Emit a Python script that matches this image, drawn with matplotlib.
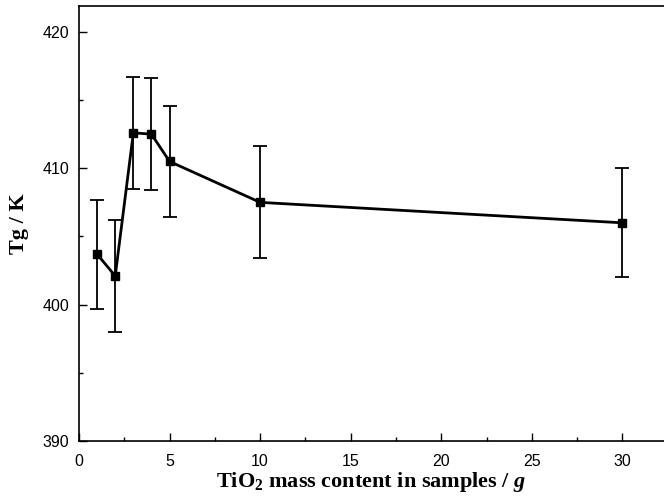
import numpy as np
import matplotlib
matplotlib.use("Agg")
import matplotlib.pyplot as plt

plt.rcParams['font.family'] = ['Liberation Sans', 'DejaVu Sans']
plt.rcParams['mathtext.fontset'] = 'custom'
plt.rcParams['mathtext.rm'] = 'Liberation Serif:bold'
plt.rcParams['mathtext.it'] = 'Liberation Serif:bold:italic'
plt.rcParams['mathtext.bf'] = 'Liberation Serif:bold'

tio2_mass = [1, 2, 3, 4, 5, 10, 30]
tg = [403.7, 402.1, 412.6, 412.5, 410.5, 407.5, 406.0]
tg_err = [4.0, 4.1, 4.1, 4.1, 4.1, 4.1, 4.0]

fig = plt.figure(figsize=(6.64, 4.97), dpi=100)
ax = fig.add_axes([79 / 664, 1 - 441 / 497, 1 - 79 / 664, 435 / 497])

ax.errorbar(tio2_mass, tg, yerr=tg_err, color='black', marker='s', markersize=6,
            linewidth=2, elinewidth=1.3, capsize=5, capthick=1.3)

ax.set_xlim(0, 32.3)
ax.set_ylim(390, 421.9)
ax.set_xticks([0, 5, 10, 15, 20, 25, 30])
ax.set_xticks(np.arange(2.5, 32, 5), minor=True)
ax.set_yticks([390, 400, 410, 420])
ax.set_yticks([395, 405, 415], minor=True)
ax.tick_params(direction='in', which='major', length=6, width=1, labelsize=11.5)
ax.tick_params(axis='x', which='major', pad=9)
ax.tick_params(axis='y', which='major', pad=7)
ax.tick_params(direction='in', which='minor', length=3, width=1)
ax.spines['right'].set_visible(False)
for s in ['left', 'bottom', 'top']:
    ax.spines[s].set_linewidth(1.2)

ax.set_xlabel('TiO$_2$ mass content in samples / $g$', fontsize=16,
              family='Liberation Serif', fontweight='bold', labelpad=1)
ax.set_ylabel('Tg / K', fontsize=16, family='Liberation Serif', fontweight='bold',
              labelpad=10)

fig.savefig('out.png', dpi=100)
